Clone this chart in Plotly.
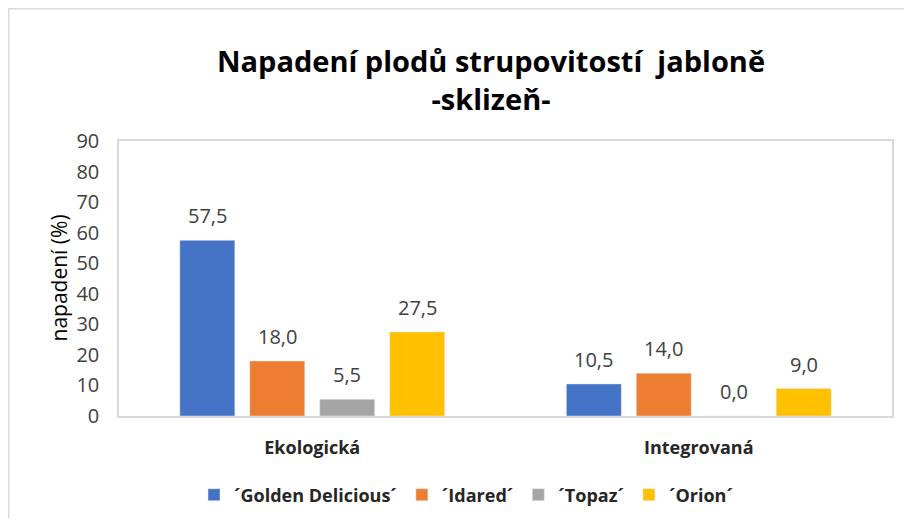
import plotly.graph_objects as go

categories = ["Ekologická", "Integrovaná"]
series_names = ["´Golden Delicious´", "´Idared´", "´Topaz´", "´Orion´"]
golden = [57.5, 10.5]
idared = [18.0, 14.0]
topaz = [5.5, 0.0]
orion = [27.5, 9.0]
series_values = [golden, idared, topaz, orion]
colors = ["#4472C4", "#ED7D31", "#A5A5A5", "#FFC000"]
y_ticks = [0, 10, 20, 30, 40, 50, 60, 70, 80, 90]

FONT = "'Open Sans', 'Noto Sans', sans-serif"

# figure sits at (8,8) inside the page because of the default body margin
W, H = 896, 510
L, R, T, B = 111, 12, 133, 102
pw, ph = W - L - R, H - T - B
BARGAP, GROUPGAP = 0.276, 0.214
n = len(series_names)
slot_px = pw / len(categories) * (1 - BARGAP) / n

fig = go.Figure()
for name, vals, col in zip(series_names, series_values, colors):
    fig.add_trace(go.Bar(x=categories, y=vals, name=name, marker_color=col))

annotations = []
for i, vals in enumerate(series_values):
    for cat, v in zip(categories, vals):
        annotations.append(dict(
            x=cat, y=v, xref="x", yref="y", text=f"{v:.1f}".replace(".", ","),
            showarrow=False, xanchor="center", yanchor="bottom",
            xshift=(i - (n - 1) / 2) * slot_px, yshift=9,
            font=dict(family=FONT, size=20, color="#404040"),
        ))
annotations.append(dict(
    x=(50 - L) / pw, y=0.5, xref="paper", yref="paper", text="napadení (%)",
    textangle=-90, showarrow=False, xanchor="center", yanchor="middle",
    font=dict(family=FONT, size=21, color="#000000"),
))

fig.update_layout(
    width=W, height=H,
    margin=dict(l=L, r=R, t=T, b=B, autoexpand=False),
    paper_bgcolor="white", plot_bgcolor="white",
    barmode="group", bargap=BARGAP, bargroupgap=GROUPGAP,
    title=dict(
        text="<b>Napadení plodů strupovitostí  jabloně<br>-sklizeň-</b>",
        xref="paper", x=(483 - L) / pw, xanchor="center",
        yref="container", y=1 - 64 / H, yanchor="middle",
        font=dict(family=FONT, size=29, color="#000000"),
    ),
    showlegend=True,
    legend=dict(
        orientation="h", x=(458 - L) / pw, xanchor="center",
        y=(H - B - 487) / ph, yanchor="middle",
        font=dict(family=FONT, size=18, color="#262626", weight="bold"),
        itemwidth=30,
    ),
    xaxis=dict(
        showline=True, mirror=True, linecolor="#D9D9D9", linewidth=1.5,
        ticks="", showgrid=False, automargin=False, ticklabelstandoff=15,
        tickfont=dict(family=FONT, size=18, color="#262626", weight="bold"),
    ),
    yaxis=dict(
        range=[0, 90], tickvals=y_ticks, ticktext=[str(v) for v in y_ticks],
        showline=True, mirror=True, linecolor="#D9D9D9", linewidth=1.5,
        showgrid=False, zeroline=False, ticks="", automargin=False,
        ticklabelstandoff=14,
        tickfont=dict(family=FONT, size=20, color="#404040"),
    ),
    annotations=annotations,
    shapes=[dict(
        type="rect", xref="paper", yref="paper",
        x0=(0.75 - L) / pw, x1=(W + 20 - L) / pw,
        y0=(H - B - (H + 20)) / ph, y1=(H - B - 0.75) / ph,
        line=dict(color="#D9D9D9", width=1.5), fillcolor="rgba(0,0,0,0)", layer="below",
    )],
)

fig.write_html("out.html")
